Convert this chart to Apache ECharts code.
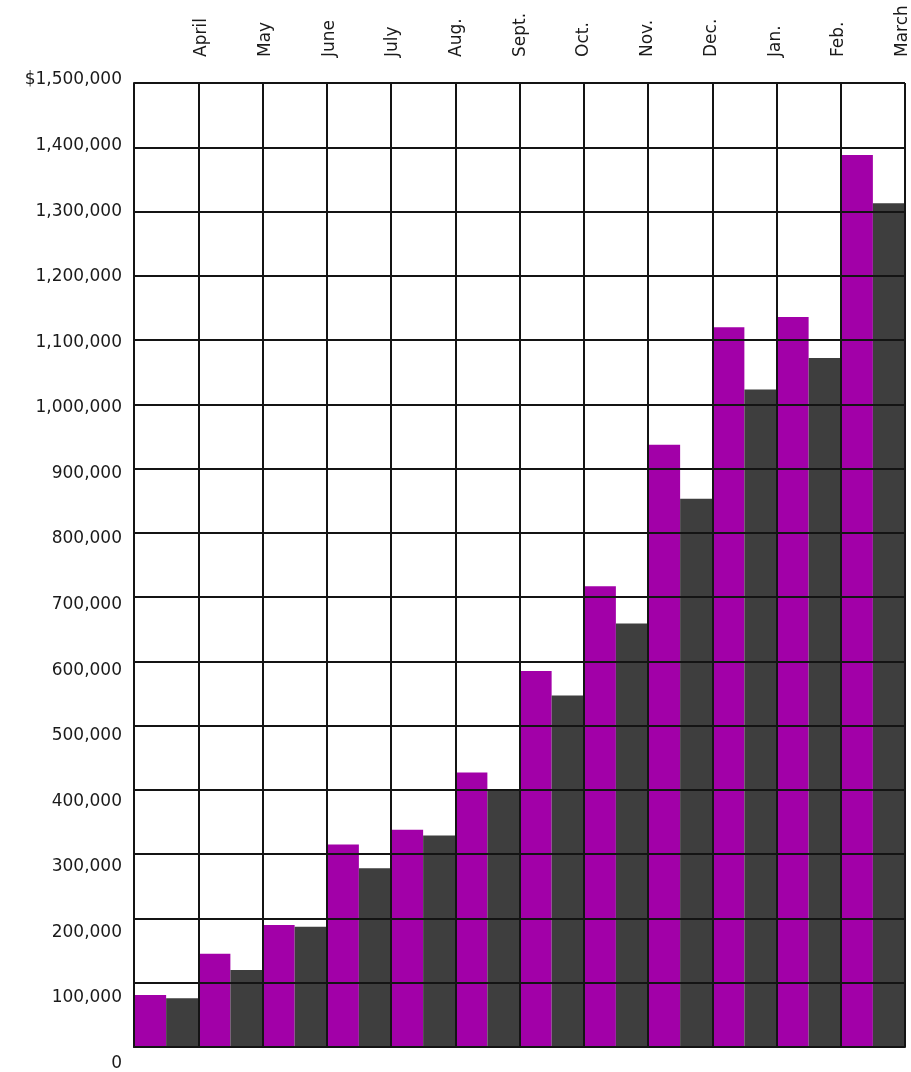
<!DOCTYPE html>
<html>
<head>
<meta charset="utf-8">
<script src="https://cdn.jsdelivr.net/npm/echarts@6/dist/echarts.min.js"></script>
<style>
html,body{margin:0;padding:0;background:#fff;}
#chart{width:911px;height:1072px;}
</style>
</head>
<body>
<div id="chart"></div>
<script>
const months = ['April','May','June','July','Aug.','Sept.','Oct.','Nov.','Dec.','Jan.','Feb.','March'];
const purpleValues = [81000, 145000, 190000, 315000, 338000, 427000, 585000, 717000, 937000, 1120000, 1136000, 1388000];
const grayValues   = [76000, 120000, 187000, 278000, 329000, 401000, 547000, 659000, 853000, 1023000, 1072000, 1313000];
const yTickLabels = ['0','100,000','200,000','300,000','400,000','500,000','600,000','700,000','800,000','900,000','1,000,000','1,100,000','1,200,000','1,300,000','1,400,000','$1,500,000'];
const yMax = 1500000, yStep = 100000;

const lineCol = '#141414';
const font = 'DejaVu Sans';
const chart = echarts.init(document.getElementById('chart'), null, {renderer:'canvas'});
chart.setOption({
  animation:false,
  backgroundColor:'#ffffff',
  grid:[
    {left:134, right:6, top:83, bottom:25},
    {left:134, right:6, top:80, bottom:7},
    {left:138, right:2, top:83, bottom:25}
  ],
  xAxis:[
    {gridIndex:0, type:'category', data:months, boundaryGap:true, z:5,
     axisLine:{show:true, lineStyle:{color:lineCol, width:2}},
     axisTick:{show:false}, axisLabel:{show:false},
     splitLine:{show:true, interval:0, lineStyle:{color:lineCol, width:2}}},
    {gridIndex:1, type:'category', data:months, show:false},
    {gridIndex:2, type:'category', position:'top', data:[''].concat(months), boundaryGap:false,
     axisLine:{show:false}, axisTick:{show:false}, splitLine:{show:false},
     axisLabel:{interval:0, rotate:90, margin:26, fontSize:17, color:'#1a1a1a', fontFamily:font}}
  ],
  yAxis:[
    {gridIndex:0, type:'value', min:0, max:yMax, interval:yStep, z:5,
     axisLine:{show:true, lineStyle:{color:lineCol, width:2}},
     axisTick:{show:false}, axisLabel:{show:false},
     splitLine:{show:true, lineStyle:{color:lineCol, width:2}}},
    {gridIndex:1, type:'value', min:0, max:yMax, interval:yStep,
     axisLine:{show:false}, axisTick:{show:false}, splitLine:{show:false},
     axisLabel:{margin:12, fontSize:17, color:'#1a1a1a', fontFamily:font,
       formatter:function(v){return yTickLabels[Math.round(v/yStep)];}}},
    {gridIndex:2, type:'value', show:false}
  ],
  series:[
    {type:'bar', xAxisIndex:0, yAxisIndex:0, data:purpleValues, barGap:'0%', barCategoryGap:'0%',
     itemStyle:{color:'#a200a8'}},
    {type:'bar', xAxisIndex:0, yAxisIndex:0, data:grayValues,
     itemStyle:{color:'#3e3e3e'}}
  ]
});
</script>
</body>
</html>
